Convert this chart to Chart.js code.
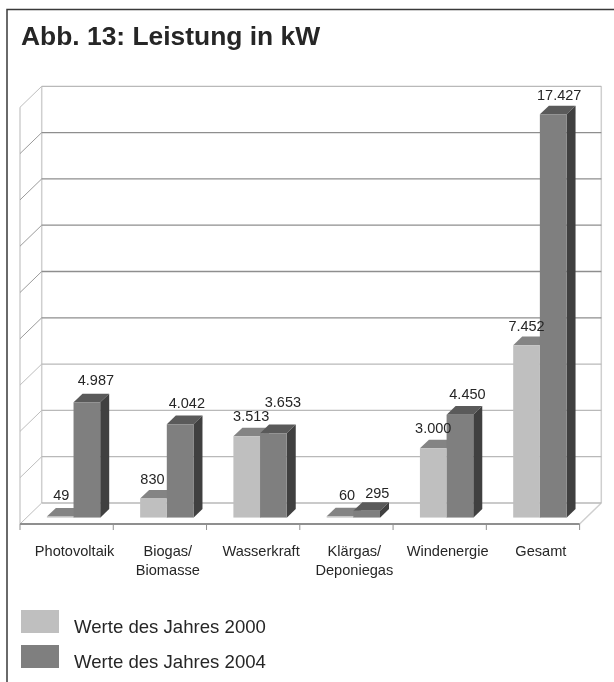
<!DOCTYPE html>
<html>
<head>
<meta charset="utf-8">
<script src="https://cdn.jsdelivr.net/npm/chart.js@4"></script>
<style>
  html, body { margin: 0; padding: 0; background: #fff; }
  #wrap { width: 614px; height: 682px; }
</style>
</head>
<body>
<div id="wrap"><canvas id="chart"></canvas></div>
<script>
const categories = ['Photovoltaik', ['Biogas/', 'Biomasse'], 'Wasserkraft', ['Klärgas/', 'Deponiegas'], 'Windenergie', 'Gesamt'];
const values2000 = [49, 830, 3513, 60, 3000, 7452];
const values2004 = [4987, 4042, 3653, 295, 4450, 17427];
const label2000 = 'Werte des Jahres 2000';
const label2004 = 'Werte des Jahres 2004';
const titleText = 'Abb. 13: Leistung in kW';

const FONT = '"Liberation Sans", Arial, sans-serif';
const INK = '#262626';

// front, top and side colours of the fake 3D bars
const faces = [
  { front: '#bfbfbf', top: '#848484', side: '#848484' },
  { front: '#7f7f7f', top: '#5a5a5a', side: '#404040' }
];
const BAR_DX = 9, BAR_DY = 8.6;   // bar depth
const WALL_DX = 14.8, WALL_DY = 14.7;   // back wall, from the bars' plane
const FLOOR_DX = 6.9, FLOOR_DY = 6.3;   // front edge of the floor, from the bars' plane

// hand placed value labels, offset from the top middle of each bar
const labelNudge = [
  [[1, -21], [-1, -18], [4.5, -19.7], [7, -20], [0, -19], [0, -18]],
  [[9, -21.7], [6.7, -20], [9.5, -30], [10.6, -17], [7.5, -20], [6, -18.6]]
];

function poly(ctx, pts, fill) {
  ctx.fillStyle = fill;
  ctx.beginPath();
  pts.forEach((p, i) => i ? ctx.lineTo(p[0], p[1]) : ctx.moveTo(p[0], p[1]));
  ctx.closePath();
  ctx.fill();
}

function line(ctx, x1, y1, x2, y2, color, width) {
  ctx.strokeStyle = color;
  ctx.lineWidth = width;
  ctx.beginPath();
  ctx.moveTo(x1, y1);
  ctx.lineTo(x2, y2);
  ctx.stroke();
}

// frame, title, walls and gridlines
const backdrop = {
  id: 'backdrop',
  beforeDatasetsDraw(chart) {
    const { ctx, chartArea: a, scales: { x, y } } = chart;
    const floorY = a.bottom + FLOOR_DY;
    const frontL = a.left - FLOOR_DX, frontR = a.right - FLOOR_DX;
    const backL = a.left + WALL_DX, backR = a.right + WALL_DX;
    ctx.save();

    // frame is open on the right
    ctx.strokeStyle = '#3a3a3a';
    ctx.lineWidth = 1.5;
    ctx.beginPath();
    ctx.moveTo(7, 684);
    ctx.lineTo(7, 9.5);
    ctx.lineTo(616, 9.5);
    ctx.stroke();

    ctx.fillStyle = INK;
    ctx.font = 'bold 26.4px ' + FONT;
    ctx.textBaseline = 'alphabetic';
    ctx.fillText(titleText, 21, 45);

    // walls
    const wallColor = '#cfcfcf';
    const topY = y.getPixelForValue(y.max) - WALL_DY;
    line(ctx, frontL, floorY, frontL, topY + (floorY - (a.bottom - WALL_DY)), wallColor, 1.5);
    line(ctx, backL, topY, backL, a.bottom - WALL_DY, wallColor, 1.5);
    line(ctx, backR, topY, backR, a.bottom - WALL_DY, wallColor, 1.5);
    line(ctx, backR, a.bottom - WALL_DY, frontR, floorY, wallColor, 1.5);

    y.ticks.forEach(t => {
      const py = y.getPixelForValue(t.value) - WALL_DY;
      const soft = t.value === 18000 || t.value <= 6000;
      line(ctx, backL, py, backR, py, soft ? '#b9b9b9' : '#8e8e8e', 1.3);
      line(ctx, backL, py, frontL, py + floorY - (a.bottom - WALL_DY), soft ? '#bdbdbd' : '#9a9a9a', 1);
    });

    // floor edge and ticks
    line(ctx, frontL, floorY, frontR, floorY, '#8f8f8f', 2);
    const step = (a.right - a.left) / categories.length;
    for (let i = 0; i <= categories.length; i++) {
      line(ctx, frontL + i * step, floorY, frontL + i * step, floorY + 6, '#8f8f8f', 1);
    }

    chart.data.datasets.forEach((ds, d) => {
      chart.getDatasetMeta(d).data.forEach(b => {
        const l = b.x - b.width / 2, r = b.x + b.width / 2;
        poly(ctx, [[l, b.y], [l + BAR_DX, b.y - BAR_DY], [r + BAR_DX, b.y - BAR_DY], [r, b.y]], faces[d].top);
        poly(ctx, [[r, b.y], [r + BAR_DX, b.y - BAR_DY], [r + BAR_DX, b.base - BAR_DY], [r, b.base]], faces[d].side);
      });
    });
    ctx.restore();
  },
  afterDatasetsDraw(chart) {
    const { ctx } = chart;
    ctx.save();
    ctx.font = '14.5px ' + FONT;
    ctx.fillStyle = INK;
    ctx.textAlign = 'center';
    ctx.textBaseline = 'middle';
    chart.data.datasets.forEach((ds, d) => {
      chart.getDatasetMeta(d).data.forEach((b, i) => {
        const text = ds.data[i].toLocaleString('de-DE');
        ctx.fillText(text, b.x + labelNudge[d][i][0], b.y + labelNudge[d][i][1]);
      });
    });

    // legend
    ctx.textAlign = 'left';
    ctx.font = '18.6px ' + FONT;
    chart.data.datasets.forEach((ds, d) => {
      const top = 610 + d * 35;
      ctx.fillStyle = faces[d].front;
      ctx.fillRect(21, top, 38, 23);
      ctx.fillStyle = INK;
      ctx.fillText(ds.label, 74, top + 18);
    });
    ctx.restore();
  }
};

new Chart(document.getElementById('chart'), {
  type: 'bar',
  data: {
    labels: categories,
    datasets: [
      { label: label2000, data: values2000, backgroundColor: faces[0].front },
      { label: label2004, data: values2004, backgroundColor: faces[1].front }
    ]
  },
  plugins: [backdrop],
  options: {
    responsive: true,
    maintainAspectRatio: false,
    animation: false,
    layout: { padding: { left: 26.9, right: 27.5, top: 101, bottom: 84.3 } },
    datasets: { bar: { categoryPercentage: 0.572, barPercentage: 1 } },
    plugins: { legend: { display: false }, title: { display: false }, tooltip: { enabled: false } },
    scales: {
      x: {
        afterFit: s => { s.height = 80; },
        grid: { display: false },
        border: { display: false },
        ticks: { color: INK, font: { family: FONT, size: 14.6, lineHeight: 1.3 }, padding: 17, labelOffset: 1, maxRotation: 0, autoSkip: false }
      },
      y: {
        display: false,
        min: 0,
        max: 18000,
        ticks: { stepSize: 2000 }
      }
    }
  }
});
</script>
</body>
</html>
